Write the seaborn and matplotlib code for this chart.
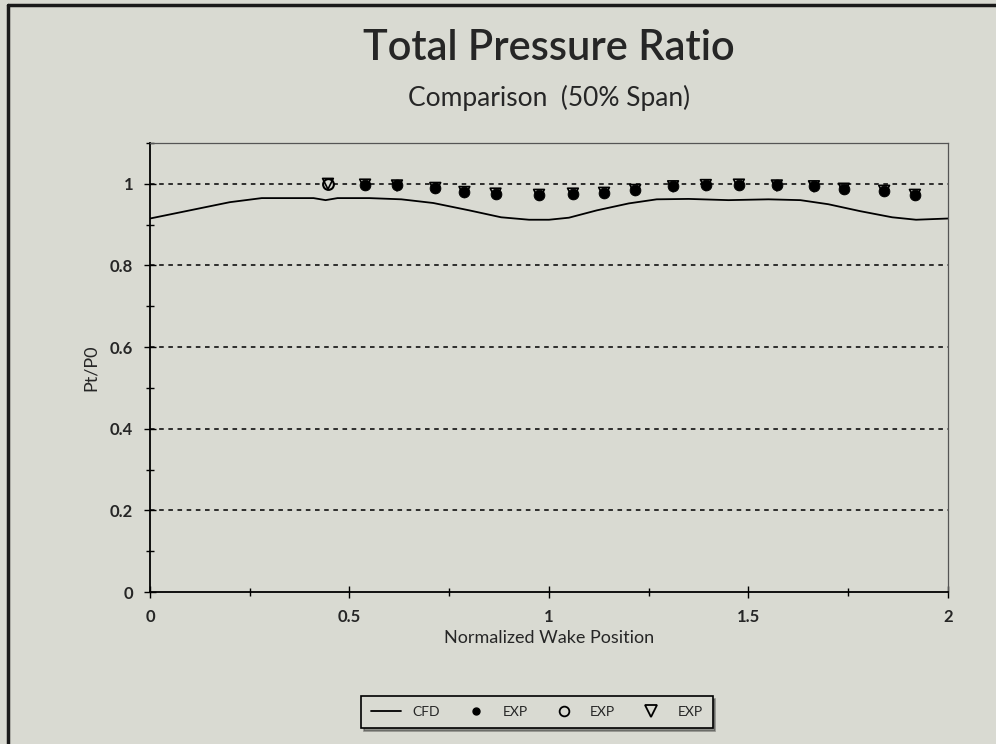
import numpy as np
import pandas as pd
import matplotlib
matplotlib.use("Agg")
import matplotlib.pyplot as plt
import seaborn as sns
from matplotlib.lines import Line2D
from matplotlib.ticker import MultipleLocator

# %% data
cfd_x = [0.0, 0.1, 0.2, 0.28, 0.41, 0.44, 0.47, 0.55, 0.63, 0.71, 0.8, 0.88, 0.95,
         1.0, 1.05, 1.12, 1.2, 1.27, 1.35, 1.45, 1.55, 1.63, 1.7, 1.78, 1.86, 1.92, 2.0]
cfd_y = [0.915, 0.935, 0.955, 0.965, 0.965, 0.96, 0.965, 0.965, 0.962, 0.953, 0.935, 0.918, 0.912,
         0.912, 0.917, 0.935, 0.952, 0.962, 0.963, 0.96, 0.962, 0.96, 0.95, 0.933, 0.918, 0.912, 0.915]

exp_x = [0.446, 0.539, 0.619, 0.715, 0.788, 0.866, 0.975, 1.06, 1.138, 1.216,
         1.311, 1.393, 1.476, 1.571, 1.664, 1.739, 1.84, 1.917]
exp_y = [1.0, 0.998, 0.996, 0.99, 0.98, 0.976, 0.973, 0.976, 0.978, 0.985,
         0.994, 0.997, 0.998, 0.996, 0.994, 0.988, 0.983, 0.973]

xticks = [0, 0.5, 1, 1.5, 2]
xtick_labels = ["0", "0.5", "1", "1.5", "2"]
yticks = [0, 0.2, 0.4, 0.6, 0.8, 1]
ytick_labels = ["0", "0.2", "0.4", "0.6", "0.8", "1"]

cfd = pd.DataFrame({"x": cfd_x, "y": cfd_y})
exp = pd.DataFrame({"x": exp_x, "y": exp_y})

# %%
sns.set_style("ticks")
plt.rcParams["font.family"] = ["Lato", "DejaVu Sans"]
bg = "#d9dad2"

fig = plt.figure(figsize=(9.96, 7.44), dpi=100, facecolor=bg)
ax = fig.add_axes([0.1506, 0.2043, 0.8012, 0.6035])
ax.set_facecolor(bg)

sns.lineplot(data=cfd, x="x", y="y", ax=ax, color="black", lw=1.3, sort=False)
sns.scatterplot(data=exp.iloc[1:], x="x", y="y", ax=ax, marker="o", s=60,
                color="black", edgecolor="black", zorder=4)
sns.scatterplot(data=exp.iloc[:1], x="x", y="y", ax=ax, marker="o", s=60,
                facecolor=bg, edgecolor="black", linewidth=1.5, zorder=4)
sns.scatterplot(data=exp, x="x", y="y", ax=ax, marker="v", s=60,
                facecolor="none", edgecolor="black", linewidth=1.2, zorder=5)

ax.set_xlim(0, 2)
ax.set_ylim(0, 1.1)
for v in yticks[1:]:
    ax.axhline(v, color="black", ls=(0, (3, 3)), lw=1.1, zorder=1)

ax.set_xticks(xticks)
ax.set_xticklabels(xtick_labels, fontweight="bold")
ax.set_yticks(yticks)
ax.set_yticklabels(ytick_labels, fontweight="bold")
ax.xaxis.set_minor_locator(MultipleLocator(0.25))
ax.yaxis.set_minor_locator(MultipleLocator(0.1))
ax.tick_params(axis="both", which="both", direction="inout", color="black", width=1)
ax.tick_params(axis="both", which="major", length=8, labelsize=12, pad=8)
ax.tick_params(axis="both", which="minor", length=6)
for side, s in ax.spines.items():
    s.set_color("black")
    s.set_linewidth(1.3)
for side in ["top", "right"]:
    ax.spines[side].set_color("#555555")
    ax.spines[side].set_linewidth(0.9)

ax.set_xlabel("Normalized Wake Position", fontsize=13, labelpad=4)
ax.set_ylabel("Pt/P0", fontsize=13, labelpad=8)

fig.text(0.551, 0.935, "Total Pressure Ratio", ha="center", va="center",
         fontsize=30, fontweight="semibold")
fig.text(0.551, 0.868, "Comparison  (50% Span)", ha="center", va="center", fontsize=19)

handles = [
    Line2D([], [], color="black", lw=1.3),
    Line2D([], [], ls="", marker="o", ms=5, color="black"),
    Line2D([], [], ls="", marker="o", ms=7, mfc="none", mec="black", mew=1.3),
    Line2D([], [], ls="", marker="v", ms=8, mfc="none", mec="black", mew=1.3),
]
leg = fig.legend(handles, ["CFD", "EXP", "EXP", "EXP"], loc="center",
                 bbox_to_anchor=(0.539, 0.043), ncol=4, frameon=True, fancybox=False,
                 shadow=True, fontsize=10, handlelength=2.2, columnspacing=1.5,
                 borderpad=0.7, edgecolor="black")
leg.get_frame().set_facecolor(bg)
leg.get_frame().set_linewidth(1.2)

# outer frame: only the left and top edges show in the reference
fig.add_artist(Line2D([0.008, 0.008], [0.0, 0.993], transform=fig.transFigure,
                      color="#1a1a1a", lw=2.5))
fig.add_artist(Line2D([0.008, 1.0], [0.993, 0.993], transform=fig.transFigure,
                      color="#1a1a1a", lw=2.5))

fig.savefig("out.png", dpi=100, facecolor=bg)
